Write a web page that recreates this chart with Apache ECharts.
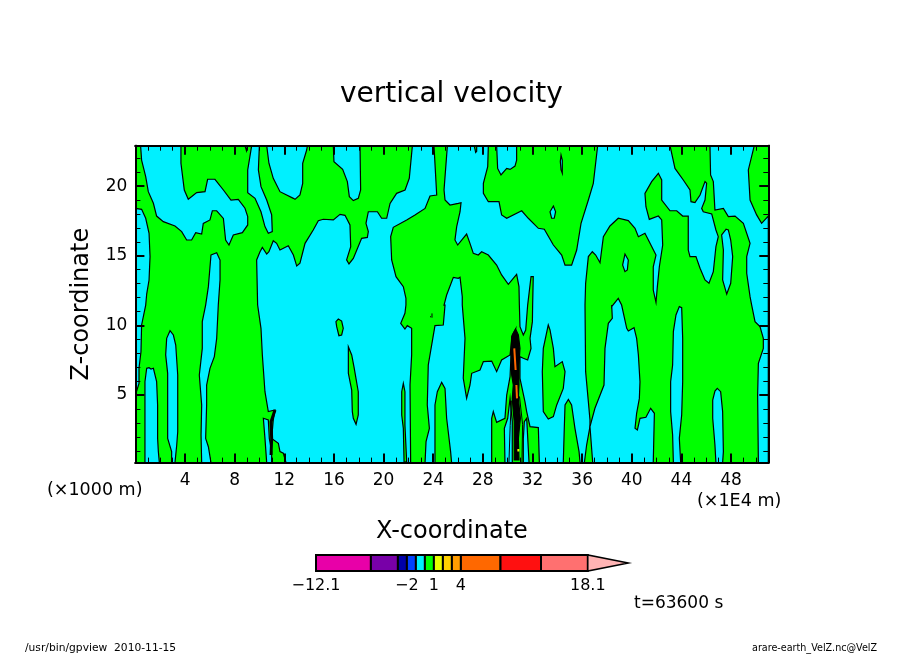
<!DOCTYPE html>
<html>
<head>
<meta charset="utf-8">
<title>vertical velocity</title>
<style>
html, body { margin: 0; padding: 0; background: #fff; }
#main { width: 904px; height: 654px; }
</style>
<script src="https://cdn.jsdelivr.net/npm/echarts@6/dist/echarts.min.js"></script>
</head>
<body>
<div id="main"></div>
<script>
"use strict";
// ticks: x in 1E4 m, z in 1000 m
const xMajor = [4, 8, 12, 16, 20, 24, 28, 32, 36, 40, 44, 48];
const xMinor = [1, 2, 3, 5, 6, 7, 9, 10, 11, 13, 14, 15, 17, 18, 19, 21, 22, 23, 25, 26, 27, 29, 30, 31, 33, 34, 35, 37, 38, 39, 41, 42, 43, 45, 46, 47, 49, 50];
const zMajor = [5, 10, 15, 20];
const zMinor = [1, 2, 3, 4, 6, 7, 8, 9, 11, 12, 13, 14, 16, 17, 18, 19, 21, 22];

// colour bar
const cbLevels = [-12.1, -6, -3, -2, -1, 0, 1, 2, 3, 4, 8.4, 12.9, 18.1];
const cbColors = ['#e800a8', '#7800a8', '#0000a8', '#0040ff', '#00f0ff', '#00ff00', '#e8ff00', '#ffd000', '#ff9c00', '#ff6800', '#ff1010', '#ff7070'];
const cbLabels = [-12.1, -2, 1, 4, 18.1];
const cbTip = 22.6;

// contour outlines [x, z]
const cyanTopLeft = [[0.42,22.9],[0.5,21.87],[0.83,20.68],[1.04,19.6],[1.45,18.77],[1.71,17.85],[2.25,17.45],[3.19,17.14],[3.73,16.73],[4.13,16.13],[4.53,16.13],[4.86,16.66],[5.34,16.56],[5.47,17.32],[6.01,17.57],[6.2,18.23],[6.55,18.23],[7.09,17.68],[7.27,16.13],[7.54,15.77],[7.89,16.49],[8.62,16.66],[9.05,17.21],[9.05,17.81],[8.83,18.41],[8.29,19.05],[7.7,19],[7.09,19.72],[6.41,20.49],[5.82,20.49],[5.61,19.6],[4.94,19.53],[4.26,19.05],[3.94,19.72],[3.67,21.64],[3.67,22.9]];
const cyanLeftEdge = [[0,18.4],[0.5,18.33],[0.83,17.69],[1.1,16.61],[1.18,14.94],[1.1,13.26],[0.91,12.25],[0.83,11.46],[0.5,10.03],[0.45,8.11],[0.29,6.92],[0.29,5.84],[0,5]];
const cyanStrip1 = [[0.77,0.15],[0.77,5.96],[0.91,6.92],[1.1,6.96],[1.26,6.87],[1.45,6.92],[1.71,5.96],[1.79,4.29],[1.79,1.89],[1.85,0.94],[1.93,0.15]];
const cyanStrip2 = [[2.79,9.62],[2.52,9.07],[2.44,7.88],[2.6,6.56],[2.6,1.89],[2.92,0.94],[2.92,0.15],[3.19,0.15],[3.33,1.41],[3.41,2.37],[3.41,6.44],[3.25,8.59],[3.06,9.31]];
const cyanStrip3 = [[6.09,15.05],[6.55,15.22],[6.82,14.69],[6.82,13.26],[6.68,11.46],[6.55,9.07],[6.36,7.76],[6.01,6.92],[5.74,5.72],[5.74,4.29],[5.66,1.89],[5.88,1.29],[6.09,0.15],[5.34,0.15],[5.29,2.13],[5.34,4.29],[5.15,6.44],[5.39,8.35],[5.39,10.27],[5.66,11.46],[5.88,12.78]];
const cyanTop1 = [[10.58,22.9],[10.76,21.64],[11.11,20.56],[11.65,19.6],[12.73,19.12],[12.86,19.05],[13.26,19.36],[13.48,20.2],[13.48,21.64],[13.8,22.59],[13.86,22.9]];
const cyanTop2 = [[15.95,22.9],[16,21.75],[16.7,21.2],[17.08,20.32],[17.24,19.24],[17.56,18.96],[17.96,19.12],[18.15,19.72],[18.1,22.9]];
const cyanTop3 = [[9.37,22.9],[9.05,21.16],[9.05,19.53],[9.64,19.12],[10.12,18.16],[10.44,17.09],[10.71,16.61],[11.03,16.73],[10.98,17.93],[10.58,19],[10.12,19.96],[9.91,21.16],[9.99,22.9]];
const cyanNick = [[8.83,22.9],[8.95,22.55],[9.02,22.9]];
const cyanCentre = [[22.32,22.9],[24.06,22.9],[24.28,19.36],[23.74,19.29],[23.34,18.4],[22.53,17.93],[21.86,17.57],[20.78,17.04],[20.57,16.37],[20.65,14.7],[21,13.5],[21.59,12.78],[21.8,11.94],[21.8,11.46],[21.72,10.87],[21.38,10.15],[21.72,9.74],[21.91,9.98],[22.26,9.79],[22.26,7.88],[22.13,5.72],[22.18,0.15],[12.14,0.15],[11.92,0.82],[11.65,0.94],[11.52,1.53],[10.98,1.89],[11.11,3.21],[11.25,3.93],[10.71,3.81],[10.44,5.24],[10.23,7.88],[10.12,9.79],[9.85,11.46],[9.77,14.7],[10.04,15.29],[10.23,15.6],[10.58,15.12],[10.76,15.29],[11.11,16.08],[11.38,15.89],[11.65,15.41],[12.32,15.72],[12.73,15.05],[13,14.26],[13.26,14.46],[13.67,15.89],[14.33,16.85],[14.74,17.52],[15.14,17.62],[15.95,17.57],[16.49,17.97],[16.89,17.9],[17.29,17.21],[17.35,15.65],[17.02,14.7],[17.21,14.41],[17.56,14.81],[18.23,16.25],[18.69,16.32],[18.77,16.73],[18.58,17.33],[18.77,18.16],[19.5,18.16],[19.84,17.69],[20.25,17.69],[20.52,18.76],[21.05,19.48],[21.73,19.72],[22.07,20.56]];
const cyanPocket = [[24.87,11.46],[25.08,12.18],[25.62,13.45],[26.02,13.38],[26.16,13.45],[26.34,12.06],[26.34,11.46],[26.56,9.07],[26.42,6.2],[26.69,4.76],[26.96,5.72],[27.1,6.56],[27.77,6.8],[28.04,7.4],[28.71,7.44],[29.11,6.68],[29.51,7.52],[30.19,7.88],[30.37,9.31],[30.64,9.74],[30.27,7.88],[30.19,6.32],[29.92,5],[29.78,3.33],[29.11,3.04],[28.84,3.81],[28.71,3.33],[28.71,0.15],[23.34,0.15],[23.42,1.65],[23.69,2.61],[23.52,4.29],[23.6,7.16],[24.14,9.98],[24.81,10.03],[24.95,11.46]];
const cyanBand = [[43.08,22.9],[43.48,21.27],[44.15,20.44],[44.69,19.72],[44.77,18.88],[45.09,18.81],[45.5,19.36],[45.9,20.32],[46.03,20.2],[45.9,19],[45.63,18.4],[45.76,18.16],[46.44,18],[46.78,16.85],[46.97,16.37],[46.78,15.65],[46.57,13.86],[46.22,13.02],[45.9,13.26],[45.5,14.1],[45.17,14.94],[44.69,14.94],[44.55,15.41],[44.55,17.85],[44.1,17.85],[43.62,18.23],[43.08,18.23],[42.41,19],[42.41,20.44],[42.14,20.92],[41.6,20.32],[41.06,19.48],[41.14,18.52],[41.41,17.61],[42.14,17.85],[42.41,17.57],[42.49,15.77],[42.22,14.21],[42.06,12.78],[41.95,11.66],[41.73,12.54],[41.73,14.21],[41.95,15.05],[41.47,15.89],[41.06,16.61],[40.53,16.37],[40.26,16.97],[39.72,17.52],[38.91,17.69],[38.24,17.14],[37.71,16.37],[37.44,14.5],[37.09,15.05],[36.82,15.29],[36.5,14.94],[36.28,13.02],[36.23,11.46],[36.28,6.68],[36.5,4.53],[36.63,3.21],[36.63,2.73],[36.36,1.41],[36.18,0.15],[35.83,0.15],[35.75,0.94],[35.42,2.61],[35.15,4.29],[34.89,4.69],[34.62,4.29],[34.56,2.61],[34.48,0.15],[32.55,0.15],[32.47,2.66],[31.8,2.73],[31.53,3.81],[31.39,4.53],[30.99,6.2],[30.99,7.76],[31.26,7.64],[31.61,7.52],[31.88,8.35],[31.8,9.07],[31.99,10.27],[32.01,11.46],[32.06,13.5],[31.88,13.5],[31.61,11.46],[31.45,9.67],[31.26,9.31],[30.99,9.91],[30.94,11.46],[30.91,12.78],[30.72,13.67],[30.45,13.38],[30.05,12.95],[29.51,13.62],[29.11,14.33],[28.44,15.05],[27.9,15.29],[27.63,15.05],[27.23,15.17],[26.96,15.89],[26.69,16.56],[26.29,16.13],[25.97,15.77],[25.75,16.13],[25.89,17.09],[26.16,18.16],[26.24,18.81],[26.02,18.76],[25.35,18.64],[24.95,19],[24.87,19.72],[25.14,22.9]];
const cyanGap = [[38.38,11.34],[38.91,11.94],[39.18,11.46],[39.59,9.79],[39.72,9.6],[40.18,9.84],[40.39,9.07],[40.53,7.88],[40.66,5.96],[40.61,4.76],[40.39,3.69],[40.26,2.61],[40.45,2.49],[40.66,3.33],[41.14,3.4],[41.52,4.05],[41.82,3.69],[41.73,0.15],[36.85,0.15],[36.63,2.73],[37.03,4.05],[37.76,5.72],[37.84,8.35],[38.11,10.15],[38.43,10.51],[38.38,11.46]];
const cyanRight = [[46.3,22.9],[46.35,20.8],[46.57,20.32],[46.7,18.28],[47.38,18.4],[47.78,17.81],[48.32,17.85],[48.99,17.33],[49.53,15.89],[49.26,14.94],[49.26,13.74],[49.53,12.06],[49.66,11.46],[49.93,10.27],[50.33,9.91],[50.6,9.07],[50.6,8.35],[50.2,7.28],[50.14,5],[50.2,0.15],[51,0.15],[51,17.85],[50.46,17.33],[50.06,17.93],[49.53,19],[49.39,21.16],[49.87,22.9]];
const cyanStrip4 = [[43.83,11.35],[44.02,11.27],[44.1,9.07],[44.1,5.96],[44.02,3.57],[43.83,1.89],[43.94,0.15],[43.35,0.15],[43.29,2.13],[43.13,3.81],[43.13,5.96],[43.29,7.16],[43.35,9.55],[43.56,10.75]];
const cyanStrip5 = [[46.89,5.48],[47.16,5.24],[47.32,3.81],[47.38,0.94],[47.32,0.15],[46.78,0.15],[46.7,1.41],[46.52,3.33],[46.52,4.64],[46.7,5.29]];
const cyanSliverA = [[10.31,3.33],[10.71,3.21],[10.79,1.89],[10.98,0.94],[10.98,0.15],[10.58,0.15],[10.44,1.89]];
const cyanSliverB = [[30.19,4.76],[30.37,3.09],[30.37,0.15],[29.78,0.15],[29.73,2.61],[30,3.33]];
const cyanSliverC = [[31.53,3.33],[31.72,0.15],[31.26,0.15],[31.26,1.89],[31.34,3.09]];

const greenBlob = [[16.35,10.46],[16.62,10.31],[16.75,9.79],[16.62,9.31],[16.4,9.26],[16.22,9.91],[16.16,10.27]];
const greenSpike1 = [[17.16,8.47],[17.43,7.88],[17.61,7.04],[17.96,5.24],[17.96,3.57],[17.78,2.9],[17.56,3.33],[17.48,3.81],[17.43,5.36],[17.16,6.56]];
const greenSpike2 = [[21.59,5.84],[21.72,5.24],[21.72,2.85],[21.86,0.22],[21.65,0.15],[21.59,2.61],[21.46,3.57],[21.46,5.24]];
const greenBump = [[24.14,0.15],[24.14,4.29],[24.33,5.24],[24.68,5.91],[24.95,5.48],[25.08,3.33],[25.4,0.94],[25.48,0.15]];
const greenTop = [[28.44,22.9],[28.39,21.4],[28.04,20.2],[28.04,19.48],[28.44,18.88],[29.3,18.88],[29.51,17.93],[29.92,17.69],[31.13,18.23],[31.66,17.69],[32.47,16.97],[32.95,16.9],[33.68,15.77],[34.35,15.05],[34.62,14.33],[35.15,14.33],[35.56,15.41],[35.91,17.33],[36.5,19],[36.9,20.2],[37.25,22.9]];
const greenIsland = [[33.27,10.03],[32.87,8.35],[32.79,6.68],[32.87,3.81],[33.27,3.28],[33.68,3.45],[33.95,4.29],[34.48,5.48],[34.62,6.68],[34.4,7.4],[33.81,7.04],[33.68,8.35],[33.41,9.67]];
const greenNick = [[27.3,22.9],[27.42,22.42],[27.5,22.5],[27.5,22.9]];

const holeTop = [[29.11,22.9],[29.19,21.27],[29.46,20.8],[29.92,21.27],[30.19,21.2],[30.59,21.44],[30.72,21.87],[30.72,22.9]];
const holeA = [[34.3,22.23],[34.4,21.87],[34.4,20.92],[34.3,21.16],[34.24,21.76]];
const holeB = [[33.68,18.57],[33.86,18.16],[33.75,17.69],[33.54,17.69],[33.41,18.16]];
const holeC = [[39.45,15.12],[39.72,14.69],[39.64,13.98],[39.45,13.86],[39.26,14.33]];
const holeD = [[47.59,16.9],[47.24,16.49],[47.38,15.41],[47.32,13.26],[47.65,12.25],[47.97,13.02],[48.13,14.94],[47.97,16.13],[47.78,16.85]];

// tightly packed contours around the two updrafts
const denseColumn = [[30.64,9.74],[30.32,9.19],[30.27,8.11],[30.32,6.44],[30.45,5.72],[30.37,4.76],[30.45,3.81],[30.53,3.09],[30.53,0.34],[30.91,0.34],[30.86,1.89],[31.02,3.33],[30.86,4.76],[30.91,5.72],[30.91,7.16],[30.99,8.35],[30.86,9.31]];
const denseLine = [[11.25,3.93],[10.93,3.09],[10.98,1.89],[10.93,0.7]];
const flankLineA = [[30.3,4.6],[30.2,2.8],[30.1,0.15]];
const flankLineB = [[30.95,4.9],[31.2,2.9],[31.15,0.15]];
const tinyLineA = [[23.74,10.62],[23.82,10.62]];
const tinyLineB = [[23.9,10.86],[23.9,10.55]];
const orangeCoreA = [[30.53,8.35],[30.64,6.8]];
const orangeCoreB = [[30.7,5.72],[30.75,4.76]];
const yellowCore = [[30.86,1.13],[30.86,0.94]];

const cyanRegions = [cyanTopLeft, cyanLeftEdge, cyanStrip1, cyanStrip2, cyanStrip3, cyanTop1, cyanTop2, cyanTop3, cyanNick, cyanCentre, cyanPocket, cyanBand, cyanGap, cyanRight, cyanStrip4, cyanStrip5, cyanSliverA, cyanSliverB, cyanSliverC];
const greenRegions = [greenBlob, greenSpike1, greenSpike2, greenBump, greenTop, greenIsland, greenNick];
const holeRegions = [holeTop, holeA, holeB, holeC, holeD];

const CYAN = cbColors[4];
const GREEN = cbColors[5];
const FONT = '"DejaVu Sans", sans-serif';

function polygonSeries(polys, fill, stroke, z) {
    return {
        type: 'custom',
        coordinateSystem: 'cartesian2d',
        xAxisIndex: 0,
        yAxisIndex: 0,
        clip: true,
        silent: true,
        z: z,
        encode: { x: 0, y: 1 },
        data: polys.map((p, i) => [p[0][0], p[0][1], i]),
        renderItem: function (params, api) {
            const points = polys[api.value(2)].map(pt => api.coord(pt));
            return {
                type: 'polygon',
                shape: { points: points },
                style: { fill: fill, stroke: stroke, lineWidth: 1.2 }
            };
        }
    };
}

function lineSeries(points, color, width, z) {
    return {
        type: 'line',
        xAxisIndex: 0,
        yAxisIndex: 0,
        data: points,
        symbol: 'none',
        silent: true,
        z: z,
        lineStyle: { color: color, width: width }
    };
}

// one grid needs two axes per side: long major and short minor ticks
function tickAxis(base, values, length, width, showLabel, margin) {
    return Object.assign({
        type: 'value',
        gridIndex: 0,
        z: 10,
        splitLine: { show: false },
        axisLine: { show: true, onZero: false, lineStyle: { color: '#000', width: 2 } },
        axisTick: { show: true, inside: true, customValues: values, length: length, lineStyle: { color: '#000', width: width } },
        axisLabel: showLabel
            ? { show: true, customValues: values, color: '#000', fontFamily: FONT, fontSize: 17, margin: margin }
            : { show: false }
    }, base);
}

const xBase = { min: 0, max: 51 };
const zBase = { min: 0.15, max: 22.9 };

const xAxes = [
    tickAxis(Object.assign({ position: 'bottom', name: 'X-coordinate', nameLocation: 'middle', nameGap: 57, nameTextStyle: { color: '#000', fontFamily: FONT, fontSize: 24 } }, xBase), xMajor, 9, 2, true, 9),
    tickAxis(Object.assign({ position: 'bottom' }, xBase), xMinor, 5, 1, false),
    tickAxis(Object.assign({ position: 'top' }, xBase), xMajor, 9, 2, false),
    tickAxis(Object.assign({ position: 'top' }, xBase), xMinor, 5, 1, false),
    {
        type: 'value',
        gridIndex: 1,
        min: cbLevels[0],
        max: cbTip,
        axisLine: { show: false },
        axisTick: { show: false },
        splitLine: { show: false },
        axisLabel: {
            show: true,
            customValues: cbLabels,
            color: '#000',
            fontFamily: FONT,
            fontSize: 16,
            margin: 7,
            formatter: v => String(v).replace('-', '\u2212')
        }
    }
];
const zAxes = [
    tickAxis(Object.assign({ position: 'left', name: 'Z-coordinate', nameLocation: 'middle', nameGap: 42, nameRotate: 90, nameTextStyle: { color: '#000', fontFamily: FONT, fontSize: 24 } }, zBase), zMajor, 9, 2, true, 8),
    tickAxis(Object.assign({ position: 'left' }, zBase), zMinor, 5, 1, false),
    tickAxis(Object.assign({ position: 'right' }, zBase), zMajor, 9, 2, false),
    tickAxis(Object.assign({ position: 'right' }, zBase), zMinor, 5, 1, false),
    { type: 'value', gridIndex: 1, min: 0, max: 1, show: false }
];

const cbSeries = {
    type: 'custom',
    coordinateSystem: 'cartesian2d',
    xAxisIndex: 4,
    yAxisIndex: 4,
    silent: true,
    clip: false,
    encode: { x: [0, 1] },
    data: cbColors.map((c, i) => [cbLevels[i], cbLevels[i + 1], i]),
    renderItem: function (params, api) {
        const p0 = api.coord([api.value(0), 0]);
        const p1 = api.coord([api.value(1), 1]);
        return {
            type: 'rect',
            shape: { x: p0[0], y: p1[1], width: p1[0] - p0[0], height: p0[1] - p1[1] },
            style: { fill: cbColors[api.value(2)], stroke: '#000', lineWidth: 2 }
        };
    }
};
const cbTipSeries = {
    type: 'custom',
    coordinateSystem: 'cartesian2d',
    xAxisIndex: 4,
    yAxisIndex: 4,
    silent: true,
    clip: false,
    data: [[cbLevels[cbLevels.length - 1], cbTip]],
    renderItem: function (params, api) {
        return {
            type: 'polygon',
            shape: { points: [api.coord([api.value(0), 0]), api.coord([api.value(0), 1]), api.coord([api.value(1), 0.5])] },
            style: { fill: '#ffb4b4', stroke: '#000', lineWidth: 1.5 }
        };
    }
};

function note(text, left, top, size) {
    return { type: 'text', left: left, top: top, style: { text: text, fill: '#000', font: size + 'px ' + FONT } };
}

const myChart = echarts.init(document.getElementById('main'));
myChart.setOption({
    animation: false,
    backgroundColor: '#fff',
    title: {
        text: 'vertical velocity',
        left: 335,
        top: 76,
        textStyle: { color: '#000', fontFamily: FONT, fontSize: 28, fontWeight: 'normal' }
    },
    grid: [
        { left: 135.4, top: 145.7, width: 632.9, height: 316.9, show: true, backgroundColor: GREEN, borderWidth: 0 },
        { left: 316, top: 555, width: 312.3, height: 16 }
    ],
    xAxis: xAxes,
    yAxis: zAxes,
    series: [
        polygonSeries(cyanRegions, CYAN, '#000', 2),
        polygonSeries(greenRegions, GREEN, '#000', 3),
        polygonSeries(holeRegions, CYAN, '#000', 4),
        polygonSeries([denseColumn], '#000', '#000', 5),
        lineSeries(denseLine, '#000', 3, 5),
        lineSeries(flankLineA, '#000', 1, 5),
        lineSeries(flankLineB, '#000', 1, 5),
        lineSeries(tinyLineA, '#000', 1, 5),
        lineSeries(tinyLineB, '#000', 1, 5),
        lineSeries(orangeCoreA, '#ff6800', 2, 6),
        lineSeries(orangeCoreB, '#ff6800', 2, 6),
        lineSeries(yellowCore, '#e8ff00', 2, 6),
        cbSeries,
        cbTipSeries
    ],
    graphic: [
        note('(\u00d71000 m)', 47, 481, 17.5),
        note('(\u00d71E4 m)', 697, 492, 17.5),
        note('t=63600 s', 634, 595, 17),
        note('/usr/bin/gpview  2010-11-15', 25, 643, 10.7),
        note('arare-earth_VelZ.nc@VelZ', 752, 643, 9.6)
    ]
});
</script>
</body>
</html>
